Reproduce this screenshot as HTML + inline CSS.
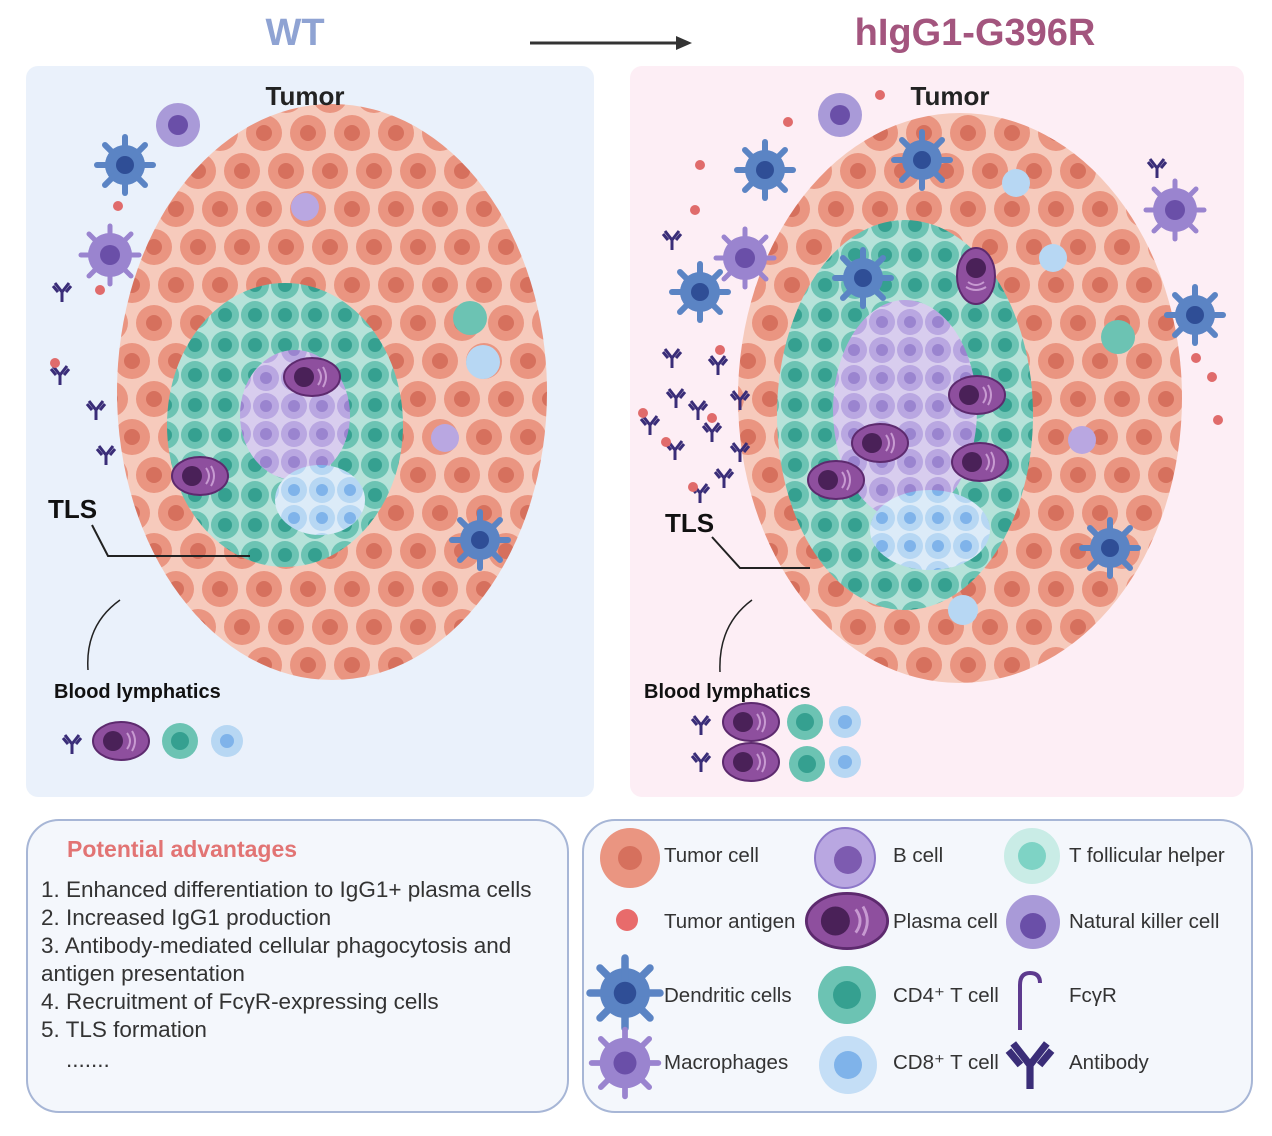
<!DOCTYPE html>
<html><head><meta charset="utf-8"><style>
body{margin:0;width:1272px;height:1131px;background:#fff;font-family:"Liberation Sans",sans-serif;overflow:hidden}
svg text{font-family:"Liberation Sans",sans-serif}
</style></head><body>
<svg width="1272" height="1131" viewBox="0 0 1272 1131">
<defs>
<pattern id="tum" x="0" y="0" width="44" height="76" patternUnits="userSpaceOnUse">
<rect width="44" height="76" fill="#f6cabc"/>
<circle cx="22" cy="19" r="18" fill="#ea9581"/><circle cx="22" cy="19" r="8" fill="#d6705d"/>
<circle cx="0" cy="57" r="18" fill="#ea9581"/><circle cx="0" cy="57" r="8" fill="#d6705d"/>
<circle cx="44" cy="57" r="18" fill="#ea9581"/><circle cx="44" cy="57" r="8" fill="#d6705d"/>
</pattern>
<pattern id="teal" x="0" y="0" width="30" height="30" patternUnits="userSpaceOnUse">
<rect width="30" height="30" fill="#b6e2d9"/><circle cx="15" cy="15" r="14" fill="#6cc3b3"/><circle cx="15" cy="15" r="7" fill="#35a090"/>
</pattern>
<pattern id="purp" x="0" y="0" width="28" height="28" patternUnits="userSpaceOnUse">
<rect width="28" height="28" fill="#d8cdee"/><circle cx="14" cy="14" r="13" fill="#b9a7e1"/><circle cx="14" cy="14" r="6" fill="#9a84cf"/>
</pattern>
<pattern id="lb" x="0" y="0" width="28" height="28" patternUnits="userSpaceOnUse">
<rect width="28" height="28" fill="#dcebf8"/><circle cx="14" cy="14" r="13" fill="#b7d7f3"/><circle cx="14" cy="14" r="6" fill="#7fb3ea"/>
</pattern>
<g id="dc"><circle r="20" fill="#5b84c4"/><g stroke="#5b84c4" stroke-width="6" stroke-linecap="round"><line x1="0" y1="-28" x2="0" y2="28"/><line x1="-28" y1="0" x2="28" y2="0"/><line x1="-20" y1="-20" x2="20" y2="20"/><line x1="-20" y1="20" x2="20" y2="-20"/></g><circle r="9" fill="#2f4e96"/></g>
<g id="mac"><circle r="22" fill="#9a84cf"/><g stroke="#9a84cf" stroke-width="5" stroke-linecap="round"><line x1="0" y1="-29" x2="0" y2="29"/><line x1="-29" y1="0" x2="29" y2="0"/><line x1="-21" y1="-21" x2="21" y2="21"/><line x1="-21" y1="21" x2="21" y2="-21"/></g><circle r="10" fill="#6a4fa8"/></g>
<g id="plasma"><ellipse rx="28" ry="19" fill="#8e4f9e" stroke="#5d2a6e" stroke-width="2"/><circle cx="-8" r="10" fill="#4a2158"/><path d="M6 -8 q6 8 0 16 M11 -10 q6 10 0 20" stroke="#c79ad1" fill="none" stroke-width="2"/></g>
<g id="ab" stroke="#3a2d78" stroke-width="3" fill="none"><path d="M0 10 V0 L-7 -9 M0 0 L7 -9 M-4 0 L-9 -6 M4 0 L9 -6"/></g>
</defs>

<text x="295" y="45" text-anchor="middle" font-size="38" font-weight="bold" fill="#8fa3d3">WT</text>
<line x1="530" y1="43" x2="680" y2="43" stroke="#333" stroke-width="3"/><polygon points="676,36 692,43 676,50" fill="#333"/>
<text x="975" y="45" text-anchor="middle" font-size="38" font-weight="bold" fill="#a3557e">hIgG1-G396R</text>

<rect x="26" y="66" width="568" height="731" rx="12" fill="#eaf1fb"/>
<rect x="630" y="66" width="614" height="731" rx="12" fill="#fdeef5"/>

<!-- left tumor -->
<ellipse cx="332" cy="392" rx="215" ry="288" fill="url(#tum)"/>
<ellipse cx="285" cy="425" rx="118" ry="142" fill="url(#teal)"/>
<ellipse cx="295" cy="415" rx="55" ry="65" fill="url(#purp)"/>
<ellipse cx="320" cy="500" rx="45" ry="35" fill="url(#lb)"/>
<text x="305" y="105" text-anchor="middle" font-size="26" font-weight="bold" fill="#222">Tumor</text>
<use href="#dc" x="125" y="165"/><use href="#mac" x="110" y="255"/><use href="#dc" x="480" y="540"/>
<circle cx="178" cy="125" r="22" fill="#a99ad8"/><circle cx="178" cy="125" r="10" fill="#6a4fa8"/>
<use href="#plasma" x="312" y="377"/><use href="#plasma" x="200" y="476"/>
<circle cx="305" cy="207" r="14" fill="#b9a7e1"/><circle cx="445" cy="438" r="14" fill="#b9a7e1"/>
<circle cx="470" cy="318" r="17" fill="#6cc3b3"/><circle cx="483" cy="362" r="17" fill="#b7d7f3"/>
<text x="48" y="518" font-size="26" font-weight="bold" fill="#111">TLS</text>
<path d="M92 525 L108 556 H250" stroke="#222" stroke-width="2" fill="none"/>
<path d="M120 600 Q85 625 88 670" stroke="#222" stroke-width="1.5" fill="none"/>
<text x="54" y="698" font-size="20" font-weight="bold" fill="#111">Blood lymphatics</text>
<use href="#ab" x="72" y="744"/><use href="#plasma" x="121" y="741"/>
<circle cx="180" cy="741" r="18" fill="#6cc3b3"/><circle cx="180" cy="741" r="9" fill="#35a090"/>
<circle cx="227" cy="741" r="16" fill="#b7d7f3"/><circle cx="227" cy="741" r="7" fill="#7fb3ea"/>
<use href="#ab" x="62" y="292"/><use href="#ab" x="60" y="375"/><use href="#ab" x="96" y="410"/><use href="#ab" x="106" y="455"/>
<circle cx="118" cy="206" r="5" fill="#e06b6b"/><circle cx="100" cy="290" r="5" fill="#e06b6b"/><circle cx="55" cy="363" r="5" fill="#e06b6b"/>

<!-- right tumor -->
<ellipse cx="960" cy="398" rx="222" ry="285" fill="url(#tum)"/>
<ellipse cx="905" cy="415" rx="128" ry="195" fill="url(#teal)"/>
<ellipse cx="905" cy="410" rx="72" ry="110" fill="url(#purp)"/>
<ellipse cx="930" cy="530" rx="60" ry="40" fill="url(#lb)"/>
<text x="950" y="105" text-anchor="middle" font-size="26" font-weight="bold" fill="#222">Tumor</text>
<use href="#dc" x="765" y="170"/><use href="#mac" x="745" y="258"/><use href="#dc" x="700" y="292"/><use href="#dc" x="922" y="160"/><use href="#dc" x="1195" y="315"/><use href="#mac" x="1175" y="210"/><use href="#dc" x="1110" y="548"/><use href="#dc" x="863" y="278"/>
<circle cx="840" cy="115" r="22" fill="#a99ad8"/><circle cx="840" cy="115" r="10" fill="#6a4fa8"/>
<use href="#plasma" x="977" y="395"/><use href="#plasma" x="880" y="443"/><use href="#plasma" x="836" y="480"/><use href="#plasma" x="980" y="462"/>
<g transform="translate(976 276) rotate(90)"><use href="#plasma"/></g>
<circle cx="1016" cy="183" r="14" fill="#b7d7f3"/><circle cx="1053" cy="258" r="14" fill="#b7d7f3"/><circle cx="1118" cy="337" r="17" fill="#6cc3b3"/><circle cx="1082" cy="440" r="14" fill="#b9a7e1"/><circle cx="963" cy="610" r="15" fill="#b7d7f3"/>
<text x="665" y="532" font-size="26" font-weight="bold" fill="#111">TLS</text>
<path d="M712 537 L740 568 H810" stroke="#222" stroke-width="2" fill="none"/>
<path d="M752 600 Q718 625 720 672" stroke="#222" stroke-width="1.5" fill="none"/>
<text x="644" y="698" font-size="20" font-weight="bold" fill="#111">Blood lymphatics</text>
<use href="#ab" x="701" y="725"/><use href="#plasma" x="751" y="722"/><circle cx="805" cy="722" r="18" fill="#6cc3b3"/><circle cx="805" cy="722" r="9" fill="#35a090"/><circle cx="845" cy="722" r="16" fill="#b7d7f3"/><circle cx="845" cy="722" r="7" fill="#7fb3ea"/>
<use href="#ab" x="701" y="762"/><use href="#plasma" x="751" y="762"/><circle cx="807" cy="764" r="18" fill="#6cc3b3"/><circle cx="807" cy="764" r="9" fill="#35a090"/><circle cx="845" cy="762" r="16" fill="#b7d7f3"/><circle cx="845" cy="762" r="7" fill="#7fb3ea"/>
<use href="#ab" x="672" y="358"/><use href="#ab" x="718" y="365"/><use href="#ab" x="676" y="398"/><use href="#ab" x="698" y="410"/><use href="#ab" x="740" y="400"/><use href="#ab" x="650" y="425"/><use href="#ab" x="712" y="432"/><use href="#ab" x="675" y="450"/><use href="#ab" x="740" y="452"/><use href="#ab" x="700" y="493"/><use href="#ab" x="724" y="478"/><use href="#ab" x="672" y="240"/><use href="#ab" x="1157" y="168"/>
<g fill="#e06b6b"><circle cx="880" cy="95" r="5"/><circle cx="788" cy="122" r="5"/><circle cx="700" cy="165" r="5"/><circle cx="695" cy="210" r="5"/><circle cx="1196" cy="358" r="5"/><circle cx="1212" cy="377" r="5"/><circle cx="1218" cy="420" r="5"/><circle cx="720" cy="350" r="5"/><circle cx="643" cy="413" r="5"/><circle cx="712" cy="418" r="5"/><circle cx="666" cy="442" r="5"/><circle cx="693" cy="487" r="5"/></g>

<!-- bottom left box -->
<rect x="27" y="820" width="541" height="292" rx="32" fill="#f4f7fc" stroke="#a7b6d6" stroke-width="2"/>
<text x="67" y="857" font-size="23" font-weight="bold" fill="#e27474">Potential advantages</text>
<g font-size="22.5" fill="#333">
<text x="41" y="897">1. Enhanced differentiation to IgG1+ plasma cells</text>
<text x="41" y="925">2. Increased IgG1 production</text>
<text x="41" y="953">3. Antibody-mediated cellular phagocytosis and</text>
<text x="41" y="981">antigen presentation</text>
<text x="41" y="1009">4. Recruitment of FcγR-expressing cells</text>
<text x="41" y="1037">5. TLS formation</text>
<text x="66" y="1067">.......</text>
</g>

<!-- legend box -->
<rect x="583" y="820" width="669" height="292" rx="32" fill="#f4f7fc" stroke="#a7b6d6" stroke-width="2"/>
<circle cx="630" cy="858" r="30" fill="#ea9581"/><circle cx="630" cy="858" r="12" fill="#d6705d"/>
<circle cx="627" cy="920" r="11" fill="#e86b6b"/>
<g transform="translate(625 993) scale(1.25)"><use href="#dc"/></g>
<g transform="translate(625 1063) scale(1.15)"><use href="#mac"/></g>
<circle cx="845" cy="858" r="30" fill="#b9a7e1" stroke="#8d78c8" stroke-width="2"/><circle cx="848" cy="860" r="14" fill="#7d5bb0"/>
<g transform="translate(847 921) scale(1.45)"><use href="#plasma"/></g>
<circle cx="847" cy="995" r="29" fill="#6cc3b3"/><circle cx="847" cy="995" r="14" fill="#35a090"/>
<circle cx="848" cy="1065" r="29" fill="#c4def6"/><circle cx="848" cy="1065" r="14" fill="#7fb3ea"/>
<circle cx="1032" cy="856" r="28" fill="#c9ece6"/><circle cx="1032" cy="856" r="14" fill="#7ed3c5"/>
<circle cx="1033" cy="922" r="27" fill="#a99ad8"/><circle cx="1033" cy="926" r="13" fill="#6a4fa8"/>
<path d="M1020 1030 V985 q0 -12 10 -12 q10 0 10 10" stroke="#5d3a8e" stroke-width="4" fill="none"/>
<g transform="translate(1030 1065) scale(2.4)"><use href="#ab"/></g>
<g font-size="20.5" fill="#333">
<text x="664" y="862">Tumor cell</text><text x="664" y="928">Tumor antigen</text><text x="664" y="1002">Dendritic cells</text><text x="664" y="1069">Macrophages</text>
<text x="893" y="862">B cell</text><text x="893" y="928">Plasma cell</text><text x="893" y="1002">CD4⁺ T cell</text><text x="893" y="1069">CD8⁺ T cell</text>
<text x="1069" y="862">T follicular helper</text><text x="1069" y="928">Natural killer cell</text><text x="1069" y="1002">FcγR</text><text x="1069" y="1069">Antibody</text>
</g>
</svg>
</body></html>
